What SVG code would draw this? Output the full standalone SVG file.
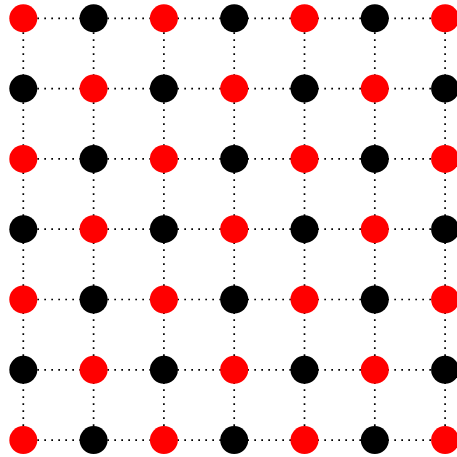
<svg xmlns="http://www.w3.org/2000/svg" width="457" height="457" viewBox="0 0 457 457">
<style>
.e{stroke:#000;stroke-width:1.7;stroke-dasharray:1.7 5.3;fill:none}
.r{fill:#ff0000}
.b{fill:#000}
</style>
<rect width="457" height="457" fill="#fff"/>
<g id="connectors">
<path class="e" d="M23.3 18.3H445M23.3 88.6H445M23.3 158.9H445M23.3 229.2H445M23.3 299.5H445M23.3 369.8H445M23.3 440.1H445"/>
<path class="e" d="M23.3 18.3V440.1M93.6 18.3V440.1M163.9 18.3V440.1M234.2 18.3V440.1M304.5 18.3V440.1M374.8 18.3V440.1M445.1 18.3V440.1"/>
</g>
<g id="nodes">
<g id="n0_0"><circle class="r" cx="23.3" cy="18.3" r="14"/></g>
<g id="n0_1"><circle class="b" cx="93.6" cy="18.3" r="14"/></g>
<g id="n0_2"><circle class="r" cx="163.9" cy="18.3" r="14"/></g>
<g id="n0_3"><circle class="b" cx="234.2" cy="18.3" r="14"/></g>
<g id="n0_4"><circle class="r" cx="304.5" cy="18.3" r="14"/></g>
<g id="n0_5"><circle class="b" cx="374.8" cy="18.3" r="14"/></g>
<g id="n0_6"><circle class="r" cx="445.1" cy="18.3" r="14"/></g>
<g id="n1_0"><circle class="b" cx="23.3" cy="88.6" r="14"/></g>
<g id="n1_1"><circle class="r" cx="93.6" cy="88.6" r="14"/></g>
<g id="n1_2"><circle class="b" cx="163.9" cy="88.6" r="14"/></g>
<g id="n1_3"><circle class="r" cx="234.2" cy="88.6" r="14"/></g>
<g id="n1_4"><circle class="b" cx="304.5" cy="88.6" r="14"/></g>
<g id="n1_5"><circle class="r" cx="374.8" cy="88.6" r="14"/></g>
<g id="n1_6"><circle class="b" cx="445.1" cy="88.6" r="14"/></g>
<g id="n2_0"><circle class="r" cx="23.3" cy="158.9" r="14"/></g>
<g id="n2_1"><circle class="b" cx="93.6" cy="158.9" r="14"/></g>
<g id="n2_2"><circle class="r" cx="163.9" cy="158.9" r="14"/></g>
<g id="n2_3"><circle class="b" cx="234.2" cy="158.9" r="14"/></g>
<g id="n2_4"><circle class="r" cx="304.5" cy="158.9" r="14"/></g>
<g id="n2_5"><circle class="b" cx="374.8" cy="158.9" r="14"/></g>
<g id="n2_6"><circle class="r" cx="445.1" cy="158.9" r="14"/></g>
<g id="n3_0"><circle class="b" cx="23.3" cy="229.2" r="14"/></g>
<g id="n3_1"><circle class="r" cx="93.6" cy="229.2" r="14"/></g>
<g id="n3_2"><circle class="b" cx="163.9" cy="229.2" r="14"/></g>
<g id="n3_3"><circle class="r" cx="234.2" cy="229.2" r="14"/></g>
<g id="n3_4"><circle class="b" cx="304.5" cy="229.2" r="14"/></g>
<g id="n3_5"><circle class="r" cx="374.8" cy="229.2" r="14"/></g>
<g id="n3_6"><circle class="b" cx="445.1" cy="229.2" r="14"/></g>
<g id="n4_0"><circle class="r" cx="23.3" cy="299.5" r="14"/></g>
<g id="n4_1"><circle class="b" cx="93.6" cy="299.5" r="14"/></g>
<g id="n4_2"><circle class="r" cx="163.9" cy="299.5" r="14"/></g>
<g id="n4_3"><circle class="b" cx="234.2" cy="299.5" r="14"/></g>
<g id="n4_4"><circle class="r" cx="304.5" cy="299.5" r="14"/></g>
<g id="n4_5"><circle class="b" cx="374.8" cy="299.5" r="14"/></g>
<g id="n4_6"><circle class="r" cx="445.1" cy="299.5" r="14"/></g>
<g id="n5_0"><circle class="b" cx="23.3" cy="369.8" r="14"/></g>
<g id="n5_1"><circle class="r" cx="93.6" cy="369.8" r="14"/></g>
<g id="n5_2"><circle class="b" cx="163.9" cy="369.8" r="14"/></g>
<g id="n5_3"><circle class="r" cx="234.2" cy="369.8" r="14"/></g>
<g id="n5_4"><circle class="b" cx="304.5" cy="369.8" r="14"/></g>
<g id="n5_5"><circle class="r" cx="374.8" cy="369.8" r="14"/></g>
<g id="n5_6"><circle class="b" cx="445.1" cy="369.8" r="14"/></g>
<g id="n6_0"><circle class="r" cx="23.3" cy="440.1" r="14"/></g>
<g id="n6_1"><circle class="b" cx="93.6" cy="440.1" r="14"/></g>
<g id="n6_2"><circle class="r" cx="163.9" cy="440.1" r="14"/></g>
<g id="n6_3"><circle class="b" cx="234.2" cy="440.1" r="14"/></g>
<g id="n6_4"><circle class="r" cx="304.5" cy="440.1" r="14"/></g>
<g id="n6_5"><circle class="b" cx="374.8" cy="440.1" r="14"/></g>
<g id="n6_6"><circle class="r" cx="445.1" cy="440.1" r="14"/></g>
</g>
</svg>
